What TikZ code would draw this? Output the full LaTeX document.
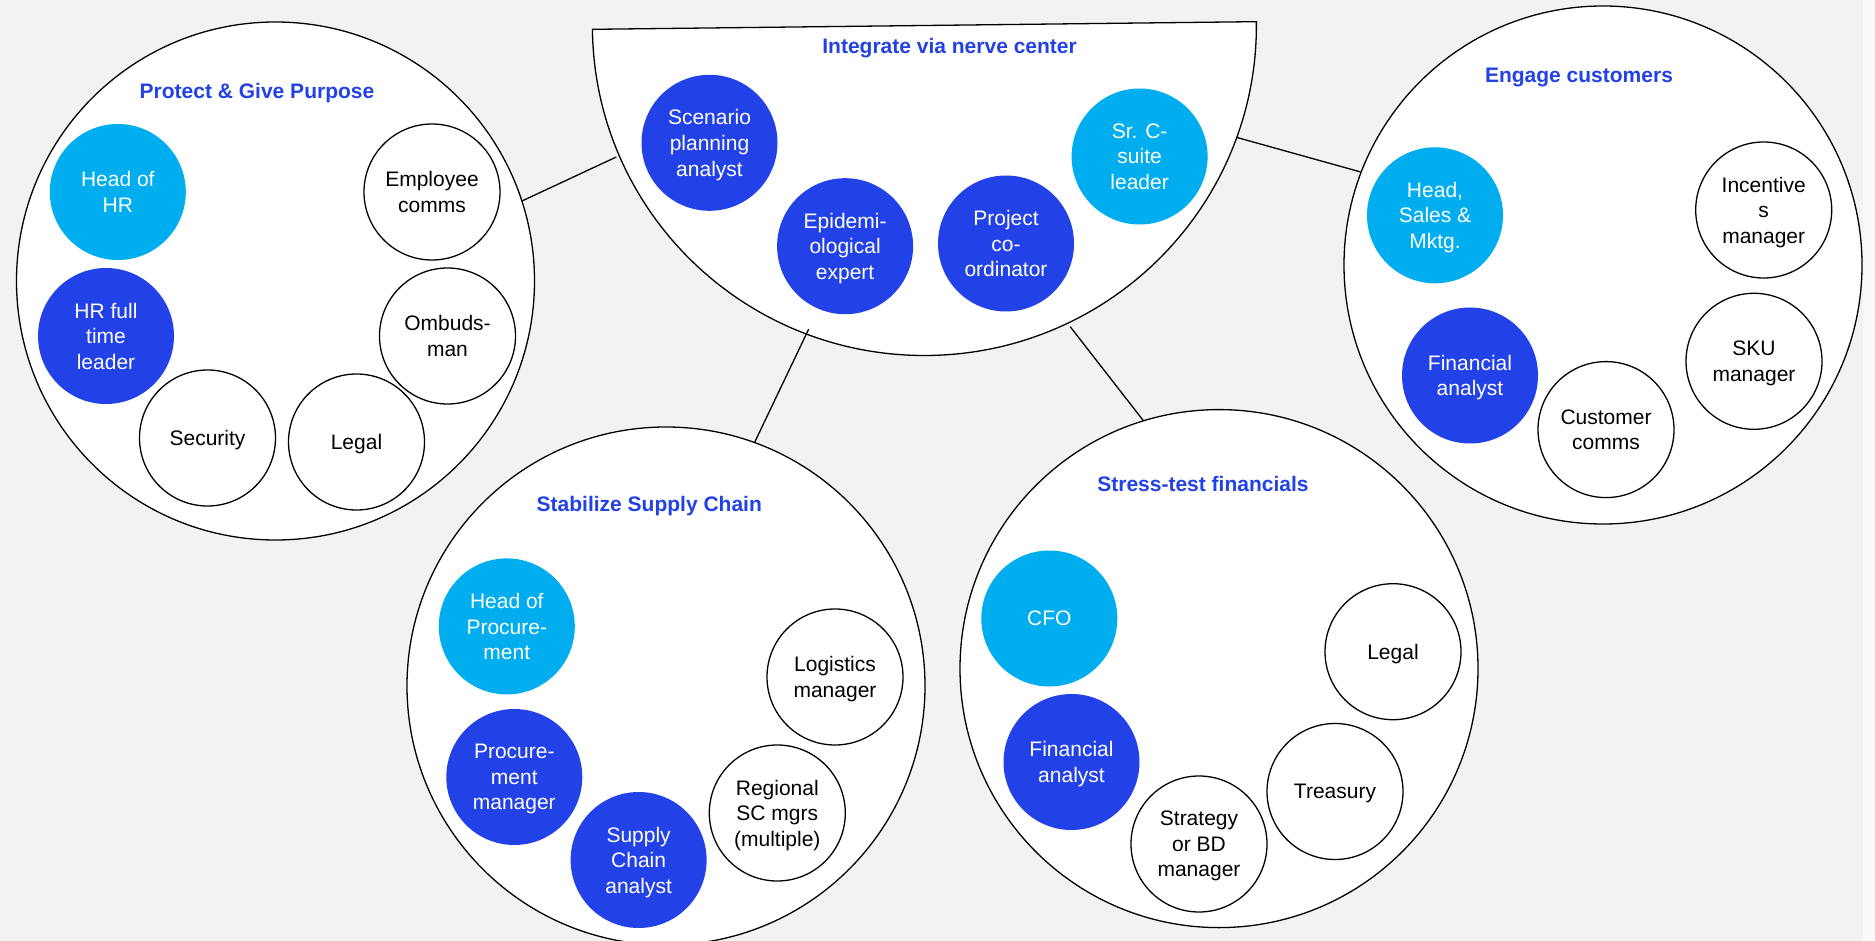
\documentclass[tikz,border=0pt]{standalone}
\usepackage{fontspec}
\setmainfont{Liberation Sans}
\definecolor{bgc}{HTML}{F2F2F2}
\definecolor{stripc}{HTML}{F9F9F9}
\definecolor{dkblue}{HTML}{2241E6}
\definecolor{ltblue}{HTML}{00ADEF}
\newcommand{\zdline}[1]{\raisebox{0pt}[\height][-3.5pt]{#1}}
\begin{document}
\begin{tikzpicture}[x=1pt,y=-1pt,
  grp/.style={circle, draw=black, line width=1.3pt, fill=white, minimum size=518pt, inner sep=0pt},
  rolebase/.style={circle, minimum size=136pt, inner sep=0pt, align=center, font=\fontsize{21}{25.6}\selectfont},
  rolew/.style={rolebase, draw=black, line width=1.3pt, fill=white, text=black},
  roleh/.style={rolebase, fill=ltblue, text=white},
  roled/.style={rolebase, fill=dkblue, text=white},
  ttl/.style={font=\bfseries\fontsize{21}{25}\selectfont, text=dkblue, inner sep=0pt, text height=15pt, text depth=0pt},
  lnk/.style={draw=black, line width=1.3pt}]
\useasboundingbox (0,0) rectangle (1875,941);
\clip (0,0) rectangle (1875,941);
\fill[bgc] (0,0) rectangle (1875,941);
\fill[stripc] (1863,0) rectangle (1875,941);

% group circles
\node[grp] (protect) at (275.5,281) {};
\node[grp] (supply) at (666,686) {};
\node[grp] (stress) at (1219,668.6) {};
\node[grp] (engage) at (1603,265) {};

% nerve center half disc
\begin{scope}[shift={(924.4,25.5)}, rotate=0.66]
\draw[fill=white, line width=1.3pt] (-332,0) arc[start angle=180, end angle=0, x radius=332, y radius=330] -- cycle;
\end{scope}

% connector ends on the nerve center arc
\coordinate (ncL) at (616.3,157);
\coordinate (ncBL) at (808.6,329.3);
\coordinate (ncBR) at (1070.2,326.7);
\coordinate (ncR) at (1236.3,137.3);
\draw[lnk] (protect.18.6) -- (ncL);
\draw[lnk] (supply.70.9) -- (ncBL);
\draw[lnk] (stress.107.2) -- (ncBR);
\draw[lnk] (engage.159.2) -- (ncR);

% titles
\node[ttl] (tprotect) at (257,91) {Protect \& Give Purpose};
\node[ttl] (tnerve) at (949.6,46) {Integrate via nerve center};
\node[ttl] (tengage) at (1579,75) {Engage customers};
\node[ttl] (tsupply) at (649.3,504.2) {Stabilize Supply Chain};
\node[ttl] (tstress) at (1203,483.8) {Stress-test financials};

% Protect & Give Purpose
\node[roleh] (hrhead) at (117.8,192) {Head of\\\zdline{HR}};
\node[roled] (hrlead) at (106,336) {HR full\\time\\\zdline{leader}};
\node[rolew] (security) at (207.5,438) {\zdline{Security}};
\node[rolew] (legalA) at (356.5,442) {\zdline{Legal}};
\node[rolew] (ombuds) at (447.5,336) {Ombuds-\\\zdline{man}};
\node[rolew] (empcomms) at (432,192) {Employee\\\zdline{comms}};

% Nerve center
\node[roled] (scen) at (709.5,142.8) {Scenario\\planning\\\zdline{analyst}};
\node[roled] (epi) at (845.1,246.2) {Epidemi-\\ological\\\zdline{expert}};
\node[roled] (proj) at (1006,243.5) {Project\\co-\\\zdline{ordinator}};
\node[roleh] (csuite) at (1139.6,156.5) {Sr. C-\\suite\\\zdline{leader}};

% Engage customers
\node[roleh] (sales) at (1435,215.3) {Head,\\Sales \&\\\zdline{Mktg.}};
\node[roled] (finA) at (1470,375.5) {Financial\\\zdline{analyst}};
\node[rolew] (custcomms) at (1606,429.6) {Customer\\\zdline{comms}};
\node[rolew] (sku) at (1754,361.3) {SKU\\\zdline{manager}};
\node[rolew] (incent) at (1763.7,210) {Incentive\\s\\\zdline{manager}};

% Stabilize Supply Chain
\node[roleh] (headproc) at (506.8,626.4) {Head of\\Procure-\\\zdline{ment}};
\node[roled] (procmgr) at (514.3,777) {Procure-\\ment\\\zdline{manager}};
\node[roled] (scanalyst) at (638.6,860) {Supply\\Chain\\\zdline{analyst}};
\node[rolew] (logistics) at (835,677) {Logistics\\\zdline{manager}};
\node[rolew] (regional) at (777.3,813) {Regional\\SC mgrs\\\zdline{(multiple)}};

% Stress-test financials
\node[roleh] (cfo) at (1049.3,618.5) {\zdline{CFO}};
\node[roled] (finB) at (1071.5,762) {Financial\\\zdline{analyst}};
\node[rolew] (strategy) at (1199,844) {Strategy\\or BD\\\zdline{manager}};
\node[rolew] (treasury) at (1335,791.5) {\zdline{Treasury}};
\node[rolew] (legalB) at (1393,651.7) {\zdline{Legal}};
\end{tikzpicture}
\end{document}
